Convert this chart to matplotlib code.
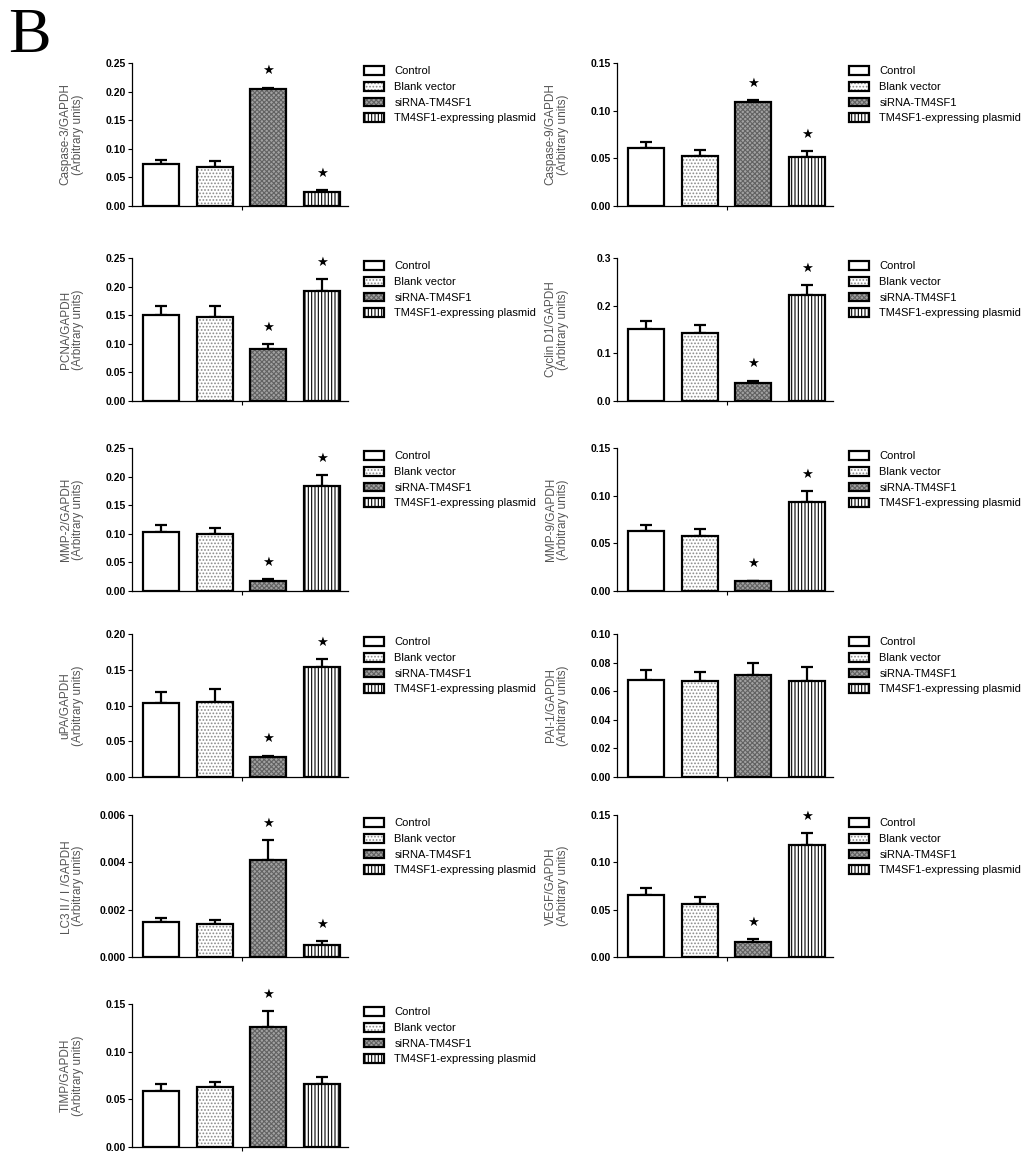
import matplotlib
matplotlib.use("Agg")
import matplotlib.pyplot as plt
from matplotlib.patches import Patch
from matplotlib.legend_handler import HandlerTuple
import numpy as np

plt.rcParams["font.family"] = ["Liberation Sans", "Noto Sans CJK SC", "DejaVu Sans"]
plt.rcParams["hatch.linewidth"] = 0.8

groups = ["Control", "Blank vector", "siRNA-TM4SF1", "TM4SF1-expressing plasmid"]

# one entry per panel: label, y max, tick step, tick format
labels = ["Caspase-3/GAPDH", "Caspase-9/GAPDH", "PCNA/GAPDH", "Cyclin D1/GAPDH",
          "MMP-2/GAPDH", "MMP-9/GAPDH", "uPA/GAPDH", "PAI-1/GAPDH",
          "LC3\u2161/\u2160/GAPDH", "VEGF/GAPDH", "TIMP/GAPDH"]
ymax = [0.25, 0.15, 0.25, 0.3, 0.25, 0.15, 0.20, 0.10, 0.006, 0.15, 0.15]
ystep = [0.05, 0.05, 0.05, 0.1, 0.05, 0.05, 0.05, 0.02, 0.002, 0.05, 0.05]
yfmt = ["%.2f", "%.2f", "%.2f", "%.1f", "%.2f", "%.2f", "%.2f", "%.2f", "%.3f", "%.2f", "%.2f"]

caspase3_mean = [0.074, 0.069, 0.2045, 0.025]
caspase3_err = [0.006, 0.009, 0.0025, 0.0035]
caspase9_mean = [0.061, 0.052, 0.109, 0.051]
caspase9_err = [0.006, 0.007, 0.002, 0.007]
pcna_mean = [0.150, 0.1475, 0.091, 0.192]
pcna_err = [0.016, 0.018, 0.008, 0.0205]
cyclin_mean = [0.151, 0.143, 0.037, 0.2225]
cyclin_err = [0.016, 0.017, 0.006, 0.0205]
mmp2_mean = [0.103, 0.099, 0.0175, 0.184]
mmp2_err = [0.012, 0.011, 0.0035, 0.019]
mmp9_mean = [0.0627, 0.0578, 0.010, 0.0934]
mmp9_err = [0.0067, 0.007, 0.001, 0.0116]
upa_mean = [0.103, 0.105, 0.0274, 0.1535]
upa_err = [0.0165, 0.018, 0.0026, 0.0115]
pai1_mean = [0.068, 0.067, 0.0713, 0.067]
pai1_err = [0.0068, 0.0066, 0.0081, 0.0101]
lc3_mean = [0.00149, 0.00139, 0.00409, 0.00052]
lc3_err = [0.00017, 0.00018, 0.00087, 0.00017]
vegf_mean = [0.0655, 0.056, 0.0161, 0.1185]
vegf_err = [0.0071, 0.0074, 0.0032, 0.0122]
timp_mean = [0.059, 0.0633, 0.1259, 0.0664]
timp_err = [0.0074, 0.0045, 0.0168, 0.0066]

means = [caspase3_mean, caspase9_mean, pcna_mean, cyclin_mean, mmp2_mean, mmp9_mean,
         upa_mean, pai1_mean, lc3_mean, vegf_mean, timp_mean]
errs = [caspase3_err, caspase9_err, pcna_err, cyclin_err, mmp2_err, mmp9_err,
        upa_err, pai1_err, lc3_err, vegf_err, timp_err]
stars = [[2, 3], [2, 3], [2, 3], [2, 3], [2, 3], [2, 3], [2, 3], [], [2, 3], [2, 3], [2]]

# styles per group: face, hatch, hatch colour
faces = ["white", "white", "#a2a2a2", "white"]
hatches = [None, ".....", "xxxxxxx", "|||||"]
hcolors = ["white", "#8a8a8a", "#626262", "black"]

W, H = 1024, 1163
col_x = [(132, 348), (617, 833)]
row_y = [(63, 206), (258, 401), (448, 591), (634, 777), (815, 957), (1004, 1147)]

fig = plt.figure(figsize=(W / 100, H / 100), dpi=100)
fig.text(8 / W, 1 - 52 / H, "B", family="Liberation Serif", fontsize=46, va="baseline")

x = np.arange(4)
bw = 0.67

for i in range(len(labels)):
    r, c = divmod(i, 2)
    x0, x1 = col_x[c]
    top, bot = row_y[r]
    ax = fig.add_axes([x0 / W, 1 - bot / H, (x1 - x0) / W, (bot - top) / H])

    m = means[i]
    e = errs[i]
    for j in range(4):
        ax.bar(x[j], m[j], bw, color=faces[j], hatch=hatches[j], edgecolor=hcolors[j],
               linewidth=0, zorder=2)
        ax.bar(x[j], m[j], bw, fill=False, edgecolor="black", linewidth=1.6, zorder=3)
    ax.errorbar(x, m, yerr=[np.zeros(4), e], fmt="none", ecolor="black",
                elinewidth=1.6, capsize=4.3, capthick=1.6, zorder=1)
    for j in stars[i]:
        ax.annotate("\u2605", (x[j], m[j] + e[j]), xytext=(0, 12), textcoords="offset points",
                    ha="center", va="center", fontsize=9.5, family="DejaVu Sans",
                    annotation_clip=False)

    ax.set_xlim(-0.54, 3.48)
    ax.set_ylim(0, ymax[i])
    ticks = np.arange(0, ymax[i] + ystep[i] / 2, ystep[i])
    ax.set_yticks(ticks)
    ax.set_yticklabels([yfmt[i] % t for t in ticks], fontsize=7.5, fontweight="bold")
    ax.set_xticks([1.5])
    ax.set_xticklabels([""])
    ax.tick_params(axis="both", direction="out", length=3, width=0.8, pad=1.5)
    for s in ["top", "right"]:
        ax.spines[s].set_visible(False)
    for s in ["left", "bottom"]:
        ax.spines[s].set_linewidth(0.9)
    ax.set_ylabel(labels[i] + "\n(Arbitrary units)", fontsize=8.5, color="#555555",
                  va="center", linespacing=1.1)
    ax.yaxis.set_label_coords(-60 / 216, 0.5)

    handles = []
    for j in range(4):
        handles.append((Patch(facecolor=faces[j], hatch=hatches[j], edgecolor=hcolors[j], linewidth=0),
                        Patch(fill=False, edgecolor="black", linewidth=1.6)))
    ax.legend(handles, groups, handler_map={tuple: HandlerTuple(ndivide=1)},
              loc="upper left", bbox_to_anchor=(1.06, 1.0), frameon=False, fontsize=8,
              handlelength=1.8, handleheight=0.8, handletextpad=0.9, labelspacing=0.5,
              borderpad=0.3, borderaxespad=0)

fig.savefig("out.png", dpi=100, facecolor="white")
